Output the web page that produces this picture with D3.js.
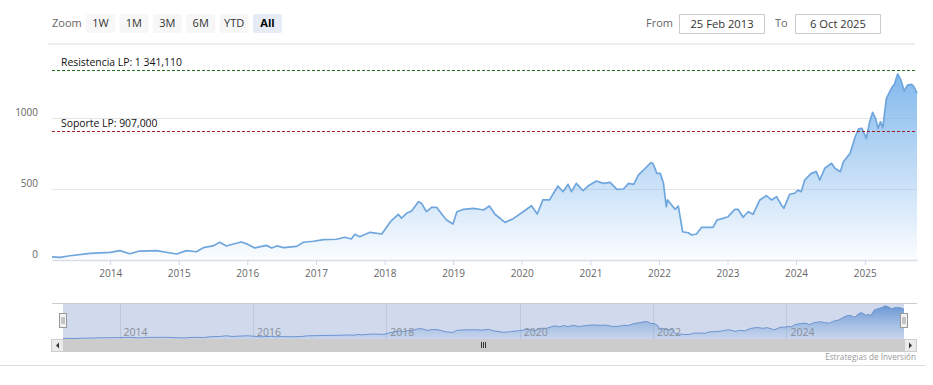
<!DOCTYPE html>
<html>
<head>
<meta charset="utf-8">
<script src="https://cdn.jsdelivr.net/npm/d3@7"></script>
<style>
  body { margin: 0; background: #fff; }
  text { font-family: "Open Sans", sans-serif; }
</style>
</head>
<body>
<div id="chart"></div>
<script>
// price history
var dates = ["2013-02-25","2013-04-08","2013-06-01","2013-09-15","2014-01-01","2014-02-22","2014-04-15","2014-06-06",
  "2014-09-05","2014-12-20","2015-02-12","2015-04-05","2015-05-12","2015-07-02","2015-08-07","2015-09-12","2015-10-18",
  "2015-12-01","2016-01-05","2016-02-10","2016-04-12","2016-05-10","2016-06-06","2016-07-12","2016-09-20","2016-10-26",
  "2016-12-18","2017-02-10","2017-04-20","2017-06-03","2017-07-08","2017-07-26","2017-08-22","2017-10-15","2017-12-17",
  "2018-02-01","2018-03-15","2018-04-01","2018-04-28","2018-05-25","2018-06-30","2018-07-17","2018-08-12","2018-09-08",
  "2018-10-05","2018-11-01","2018-11-27","2018-12-31","2019-01-21","2019-02-25","2019-04-20","2019-06-12","2019-07-13",
  "2019-08-12","2019-10-04","2019-11-17","2020-01-01","2020-02-22","2020-03-24","2020-04-23","2020-05-28","2020-07-12",
  "2020-08-08","2020-09-04","2020-09-22","2020-10-18","2020-11-23","2020-12-19","2021-02-02","2021-03-11","2021-04-16",
  "2021-05-22","2021-06-26","2021-07-23","2021-08-19","2021-09-14","2021-10-20","2021-11-19","2021-11-30","2021-12-21",
  "2022-01-08","2022-01-25","2022-02-09","2022-02-16","2022-03-28","2022-04-14","2022-05-07","2022-06-06","2022-06-24",
  "2022-07-20","2022-08-16","2022-09-20","2022-10-16","2022-11-06","2022-12-08","2023-01-04","2023-02-09","2023-02-26",
  "2023-03-25","2023-04-21","2023-05-17","2023-06-22","2023-07-27","2023-08-23","2023-09-19","2023-10-15","2023-10-28",
  "2023-11-28","2023-12-25","2024-01-11","2024-01-29","2024-02-16","2024-03-22","2024-04-18","2024-05-06","2024-06-02",
  "2024-07-08","2024-07-26","2024-08-24","2024-09-09","2024-10-15","2024-11-11","2024-11-29","2024-12-17","2025-01-09",
  "2025-01-27","2025-02-12","2025-02-27","2025-03-13","2025-03-25","2025-04-07","2025-04-26","2025-05-27","2025-06-08",
  "2025-06-25","2025-07-12","2025-07-30","2025-08-16","2025-09-08","2025-09-20","2025-10-06"];

var prices = [22,19,30,47,54,66,44,63,
  66,42,66,58,87,99,125,99,113,
  127,110,85,103,85,99,87,96,125,
  132,143,146,160,148,181,164,195,183,
  270,322,294,329,345,411,399,340,371,
  371,324,282,254,340,357,364,352,380,
  322,265,291,333,382,324,423,423,521,
  481,533,481,540,488,521,556,540,547,
  498,500,540,533,599,646,685,681,610,
  610,540,375,423,357,380,199,192,176,
  183,230,230,230,282,293,305,357,357,
  301,340,322,423,453,423,446,387,364,
  463,470,493,481,563,610,622,563,646,
  681,646,622,692,751,868,923,927,857,
  974,1040,998,927,974,932,1139,1220,1237,
  1310,1268,1190,1232,1237,1220,1174];

var yTicks = [0, 500, 1000];
var levelValues = [1341.11, 907];
var levelLabels = ["Resistencia LP: 1 341,110", "Soporte LP: 907,000"];
var zoomButtons = ["1W", "1M", "3M", "6M", "YTD", "All"];
var rangeFrom = "25 Feb 2013", rangeTo = "6 Oct 2025";
var credits = "Estrategias de Inversión";

var parse = d3.timeParse("%Y-%m-%d");
var data = dates.map(function (d, i) { return {date: parse(d), value: prices[i]}; });
var start = data[0].date, end = data[data.length - 1].date;

var svg = d3.select("#chart").append("svg")
  .attr("width", 933)
  .attr("height", 385);

var defs = svg.append("defs");

// ---------- range selector ----------
svg.append("line")
  .attr("x1", 48).attr("x2", 915).attr("y1", 44).attr("y2", 44)
  .attr("stroke", "#eeeeee").attr("stroke-width", 2);

svg.append("text")
  .attr("x", 52).attr("y", 27)
  .attr("font-size", 11).attr("fill", "#666")
  .text("Zoom");

var btn = svg.append("g").selectAll("g")
  .data(zoomButtons)
  .enter().append("g")
  .attr("transform", function (d, i) { return "translate(" + (86 + i * 33.4) + ",14)"; });

btn.append("rect")
  .attr("width", 29).attr("height", 19).attr("rx", 2)
  .attr("fill", function (d) { return d === "All" ? "#e6ebf5" : "#f7f7f7"; });

btn.append("text")
  .attr("x", 14.5).attr("y", 13.2)
  .attr("text-anchor", "middle")
  .attr("font-size", 11)
  .attr("font-weight", function (d) { return d === "All" ? "bold" : "normal"; })
  .attr("fill", function (d) { return d === "All" ? "#000" : "#333"; })
  .text(function (d) { return d; });

var inputs = [
  {label: "From", lx: 646, bx: 679.5, bw: 85, text: rangeFrom},
  {label: "To", lx: 775, bx: 795.5, bw: 85, text: rangeTo}
];
inputs.forEach(function (inp) {
  svg.append("text")
    .attr("x", inp.lx).attr("y", 27)
    .attr("font-size", 11).attr("fill", "#666")
    .text(inp.label);
  svg.append("rect")
    .attr("x", inp.bx).attr("y", 14.5).attr("width", inp.bw).attr("height", 19)
    .attr("fill", "#fff").attr("stroke", "#cccccc");
  svg.append("text")
    .attr("x", inp.bx + inp.bw / 2).attr("y", 27.5)
    .attr("text-anchor", "middle")
    .attr("font-size", 11.2).attr("fill", "#333")
    .text(inp.text);
});

// ---------- main plot ----------
var x = d3.scaleTime().domain([start, end]).range([52, 917]);
var y = d3.scaleLinear().domain([0, 1500]).range([260, 47]);

var grad = defs.append("linearGradient")
  .attr("id", "areaGrad")
  .attr("gradientUnits", "userSpaceOnUse")
  .attr("x1", 0).attr("x2", 0)
  .attr("y1", y(d3.max(prices))).attr("y2", y(0));
grad.append("stop").attr("offset", 0).attr("stop-color", "#7cb5ec").attr("stop-opacity", 0.95);
grad.append("stop").attr("offset", 1).attr("stop-color", "#7cb5ec").attr("stop-opacity", 0.03);

// grid
svg.append("g").selectAll("line")
  .data(yTicks.filter(function (d) { return d > 0; }))
  .enter().append("line")
  .attr("x1", 52).attr("x2", 917)
  .attr("y1", function (d) { return Math.round(y(d)) + 0.5; })
  .attr("y2", function (d) { return Math.round(y(d)) + 0.5; })
  .attr("stroke", "#e6e6e6");

// y labels
svg.append("g").selectAll("text")
  .data(yTicks)
  .enter().append("text")
  .attr("x", 38)
  .attr("y", function (d) { return y(d) - 2; })
  .attr("text-anchor", "end")
  .attr("font-size", 10)
  .attr("fill", "#666")
  .text(function (d) { return d; });

// area + line
var area = d3.area()
  .x(function (d) { return x(d.date); })
  .y0(y(0))
  .y1(function (d) { return y(d.value); });

var line = d3.line()
  .x(function (d) { return x(d.date); })
  .y(function (d) { return y(d.value); });

svg.append("path")
  .datum(data)
  .attr("d", area)
  .attr("fill", "url(#areaGrad)");

svg.append("path")
  .datum(data)
  .attr("d", line)
  .attr("fill", "none")
  .attr("stroke", "#6fa6dd")
  .attr("stroke-width", 1.7)
  .attr("stroke-linejoin", "round");

// x axis
var xAxis = svg.append("g")
  .attr("transform", "translate(0," + y(0) + ")")
  .call(d3.axisBottom(x)
    .ticks(d3.timeYear.every(1))
    .tickFormat(d3.timeFormat("%Y"))
    .tickSize(5)
    .tickSizeOuter(0)
    .tickPadding(5));
xAxis.select(".domain").attr("stroke", "#d8dde6").attr("stroke-width", 1.5);
xAxis.selectAll(".tick line").attr("stroke", "#ccd6eb");
xAxis.selectAll(".tick text")
  .attr("fill", "#666")
  .attr("font-size", 10)
  .attr("font-family", "Open Sans, sans-serif");

// support / resistance lines
var levelColors = ["#1f6f1f", "#a01c24"];
levelValues.forEach(function (v, i) {
  var ly = Math.round(y(v)) + 0.5;
  svg.append("line")
    .attr("x1", 52).attr("x2", 917)
    .attr("y1", ly).attr("y2", ly)
    .attr("stroke", levelColors[i])
    .attr("stroke-dasharray", "3,2");
  svg.append("text")
    .attr("x", 61).attr("y", ly - 4.5)
    .attr("font-family", "DejaVu Sans, sans-serif")
    .attr("font-size", 10.4)
    .attr("fill", "#111")
    .text(levelLabels[i]);
});

// ---------- navigator ----------
var nx = d3.scaleTime().domain([start, end]).range([63, 904]);
var ny = d3.scaleLinear().domain([0, 1340]).range([339, 305]);

var navGrad = defs.append("linearGradient")
  .attr("id", "navGrad")
  .attr("gradientUnits", "userSpaceOnUse")
  .attr("x1", 0).attr("x2", 0)
  .attr("y1", ny(d3.max(prices))).attr("y2", ny(0));
navGrad.append("stop").attr("offset", 0).attr("stop-color", "#5d93d6").attr("stop-opacity", 0.9);
navGrad.append("stop").attr("offset", 1).attr("stop-color", "#7cb5ec").attr("stop-opacity", 0.1);

var navTicks = nx.ticks(d3.timeYear.every(2));

svg.append("g").selectAll("line")
  .data(navTicks)
  .enter().append("line")
  .attr("x1", function (d) { return Math.round(nx(d)) + 0.5; })
  .attr("x2", function (d) { return Math.round(nx(d)) + 0.5; })
  .attr("y1", 303).attr("y2", 339)
  .attr("stroke", "#e6e6e6");

svg.append("path")
  .datum(data)
  .attr("d", d3.area()
    .x(function (d) { return nx(d.date); })
    .y0(339)
    .y1(function (d) { return ny(d.value); }))
  .attr("fill", "url(#navGrad)");

svg.append("path")
  .datum(data)
  .attr("d", d3.line()
    .x(function (d) { return nx(d.date); })
    .y(function (d) { return ny(d.value); }))
  .attr("fill", "none")
  .attr("stroke", "#6f9bd6")
  .attr("stroke-width", 1);

// mask over the selected range (all)
svg.append("rect")
  .attr("x", 63).attr("y", 303)
  .attr("width", 841).attr("height", 36)
  .attr("fill", "rgba(102,133,194,0.3)");

svg.append("line")
  .attr("x1", 52).attr("x2", 917).attr("y1", 303.5).attr("y2", 303.5)
  .attr("stroke", "#cccccc");

svg.append("g").selectAll("text")
  .data(navTicks)
  .enter().append("text")
  .attr("x", function (d) { return nx(d) + 4; })
  .attr("y", 336)
  .attr("font-size", 10.5)
  .attr("fill", "#8a8f99")
  .text(d3.timeFormat("%Y"));

// handles
[63, 904].forEach(function (hx) {
  var h = svg.append("g").attr("transform", "translate(" + (Math.round(hx) - 3.5) + ",313.5)");
  h.append("rect").attr("width", 7).attr("height", 14)
    .attr("fill", "#f2f2f2").attr("stroke", "#999").attr("stroke-width", 1);
  h.append("line").attr("x1", 2.5).attr("x2", 2.5).attr("y1", 3.5).attr("y2", 10.5).attr("stroke", "#999");
  h.append("line").attr("x1", 4.5).attr("x2", 4.5).attr("y1", 3.5).attr("y2", 10.5).attr("stroke", "#999");
});

// scrollbar
svg.append("rect")
  .attr("x", 51).attr("y", 339).attr("width", 866).attr("height", 13)
  .attr("fill", "#f2f2f2");
svg.append("rect")
  .attr("x", 63).attr("y", 339).attr("width", 841).attr("height", 13)
  .attr("fill", "#cccccc");
[[51, -1], [904, 1]].forEach(function (b) {
  svg.append("rect")
    .attr("x", b[0] + 0.5).attr("y", 339.5).attr("width", 12).attr("height", 12)
    .attr("fill", "#ebebeb").attr("stroke", "#cccccc");
  var cx = b[0] + 6.5, cy = 345.5;
  svg.append("path")
    .attr("d", b[1] < 0
      ? "M" + (cx + 1.5) + "," + (cy - 3) + "L" + (cx - 1.5) + "," + cy + "L" + (cx + 1.5) + "," + (cy + 3) + "Z"
      : "M" + (cx - 1.5) + "," + (cy - 3) + "L" + (cx + 1.5) + "," + cy + "L" + (cx - 1.5) + "," + (cy + 3) + "Z")
    .attr("fill", "#333");
});
[-2, 0, 2].forEach(function (o) {
  svg.append("line")
    .attr("x1", 483.5 + o).attr("x2", 483.5 + o)
    .attr("y1", 342).attr("y2", 348)
    .attr("stroke", "#333");
});

// credits + bottom border
svg.append("text")
  .attr("x", 916).attr("y", 360)
  .attr("text-anchor", "end")
  .attr("font-size", 8.2)
  .attr("fill", "#999")
  .text(credits);

svg.append("line")
  .attr("x1", 0).attr("x2", 925).attr("y1", 365.5).attr("y2", 365.5)
  .attr("stroke", "#dddddd");
</script>
</body>
</html>
